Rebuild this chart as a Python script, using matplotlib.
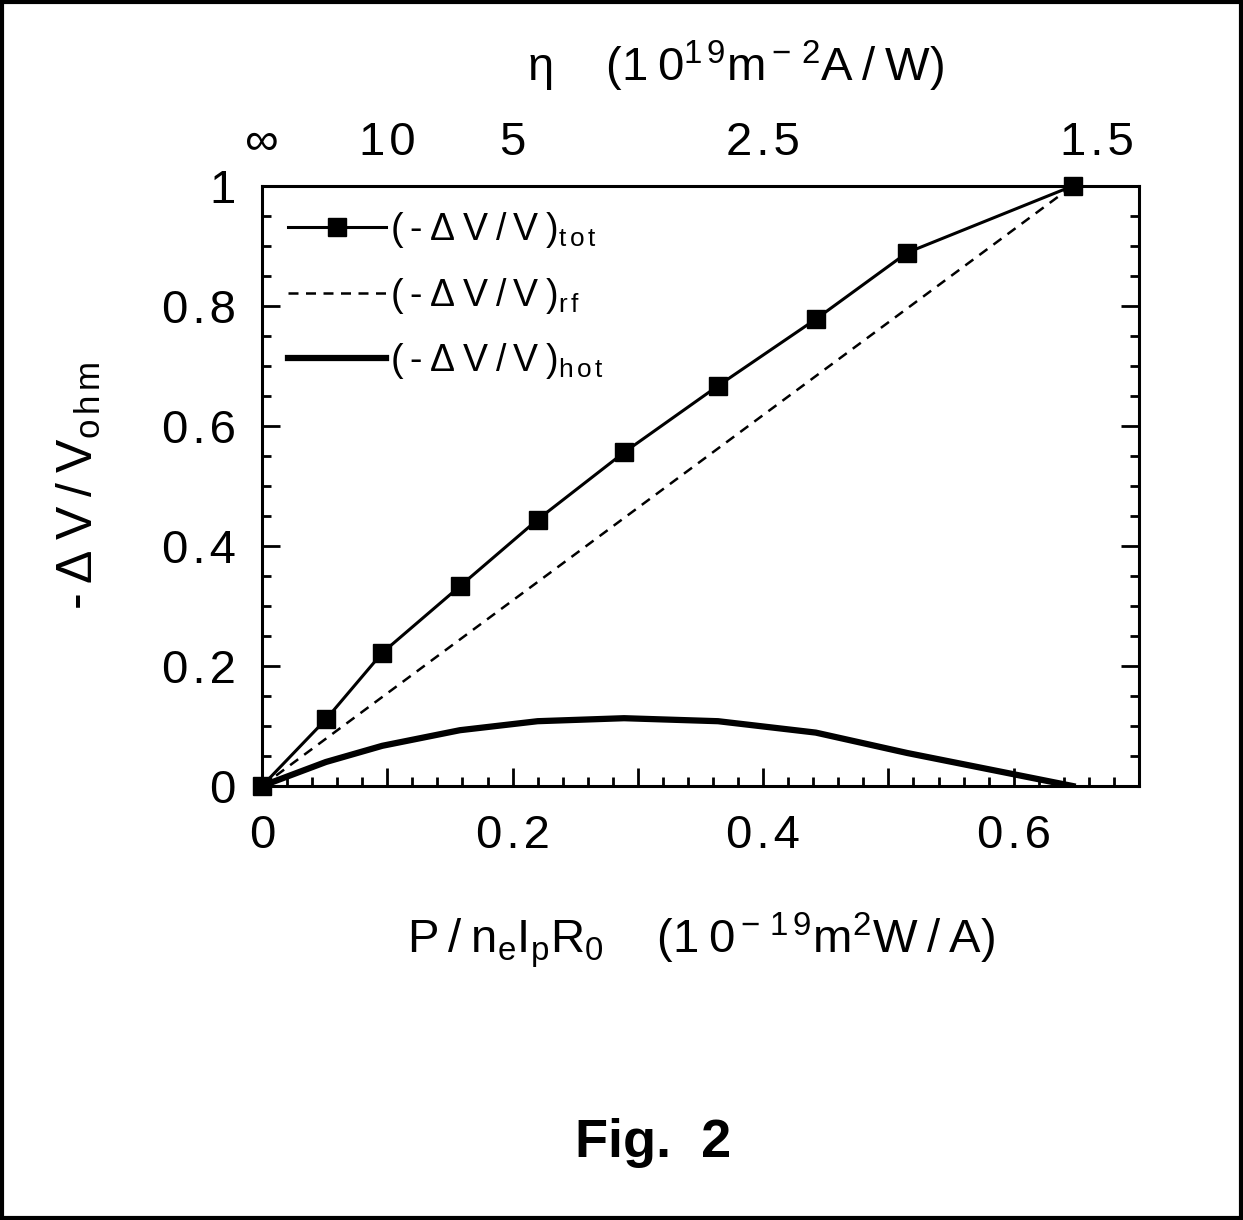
import numpy as np
import matplotlib
matplotlib.use('Agg')
import matplotlib.pyplot as plt
from matplotlib.patches import Rectangle

plt.rcParams['font.family'] = ['Liberation Sans', 'DejaVu Sans']
plt.rcParams['mathtext.fontset'] = 'custom'
plt.rcParams['mathtext.rm'] = 'Liberation Sans'
plt.rcParams['mathtext.it'] = 'Liberation Sans'
plt.rcParams['mathtext.bf'] = 'Liberation Sans:bold'

# P/(n_e I_p R_0) values of the computed points
x_tot = [0.0, 0.051, 0.096, 0.158, 0.220, 0.289, 0.364, 0.442, 0.515, 0.647]
y_tot = [0.0, 0.111, 0.222, 0.333, 0.444, 0.556, 0.667, 0.778, 0.889, 1.0]
x_rf = [0.0, 0.647]
y_rf = [0.0, 1.0]
x_hot = [0.0, 0.051, 0.096, 0.158, 0.220, 0.289, 0.364, 0.442, 0.515, 0.647]
y_hot = [0.0, 0.040, 0.067, 0.093, 0.108, 0.113, 0.108, 0.089, 0.055, 0.0]

x_ticks = [0, 0.1, 0.2, 0.3, 0.4, 0.5, 0.6, 0.7]
x_ticklabels = ['0', '', '0.2', '', '0.4', '', '0.6', '']
y_ticks = [0, 0.2, 0.4, 0.6, 0.8, 1.0]
y_ticklabels = ['0', '0.2', '0.4', '0.6', '0.8', '1']
eta_vals = [np.inf, 10, 5, 2.5, 1.5]
eta_labels = ['\u221e', '10', '5', '2.5', '1.5']

HS = '\u200a'
T = '\u2009'


def sp(s):
    # wide letter spacing like the original
    return HS.join(s)


fig = plt.figure(figsize=(12.43, 12.2), dpi=100)
ax = fig.add_axes([262/1243, 1 - 786/1220, (1139 - 262)/1243, 600/1220])

lab = T.join('(-\u0394V/V)')
ax.plot(x_tot, y_tot, color='black', lw=2.2, marker='s', ms=13, clip_on=False,
        zorder=5, label=lab + r'$_{\rm t\,o\,t}$')
ax.plot(x_rf, y_rf, color='black', lw=1.8, ls=(0, (4, 3)), label=lab + r'$_{\rm r\,f}$')
ax.plot(x_hot, y_hot, color='black', lw=4.5, label=lab + r'$_{\rm h\,o\,t}$')

ax.set_xlim(0, 0.7)
ax.set_ylim(0, 1)
ax.set_xticks(x_ticks)
ax.set_xticklabels([sp(t) for t in x_ticklabels])
ax.set_xticks(np.arange(0, 0.7001, 0.02), minor=True)
ax.set_yticks(y_ticks)
ax.set_yticklabels([sp(t) for t in y_ticklabels])
ax.set_yticks(np.arange(0, 1.0001, 0.05), minor=True)
ax.tick_params(which='both', direction='in', top=True, right=True, width=2, labelsize=34)
ax.tick_params(which='major', length=13)
ax.tick_params(which='minor', length=6.5)
ax.tick_params(axis='x', pad=20)
ax.tick_params(axis='y', pad=19)
for s in ax.spines.values():
    s.set_linewidth(2.2)

ax.set_xlabel('P' + T + '/' + T + r'n$_{\rm e}$I$_{\rm p}$R$_0$    (1' + T + r'0$^{\rm -\,1\,9}$m$^2$W' + T + '/' + T + 'A)',
              fontsize=34, labelpad=38)
ax.set_ylabel('-' + T + '\u0394' + T + 'V' + T + '/' + T + r'V$_{\rm o\,h\,m}$', fontsize=36, labelpad=42)

ax2 = ax.twiny()
ax2.set_xlim(ax.get_xlim())
ax2.set_xticks([1.0 / v for v in eta_vals])
ax2.set_xticklabels([sp(t) for t in eta_labels])
ax2.tick_params(axis='x', length=0, labelsize=34, pad=15)
ax2.set_xlabel('\u03b7    (1' + T + r'0$^{\rm 1\,9}$m$^{\rm -\,2}$A' + T + '/' + T + 'W)', fontsize=34, labelpad=28)
ax2.xaxis.set_label_coords(0.54, 1.175)
for s in ax2.spines.values():
    s.set_visible(False)

leg = ax.legend(loc='upper left', fontsize=27, frameon=False, handlelength=2.6,
                handletextpad=0.1, labelspacing=0.68, borderaxespad=0.3,
                bbox_to_anchor=(0.0, 1.003))

fig.text(0.525, 0.063, 'Fig.  2', fontsize=39, fontweight='bold', ha='center', va='center')

fig.patches.append(Rectangle((0.002, 0.002), 0.996, 0.996, transform=fig.transFigure,
                             fill=False, edgecolor='black', lw=3))

fig.savefig('out.png', dpi=100)
